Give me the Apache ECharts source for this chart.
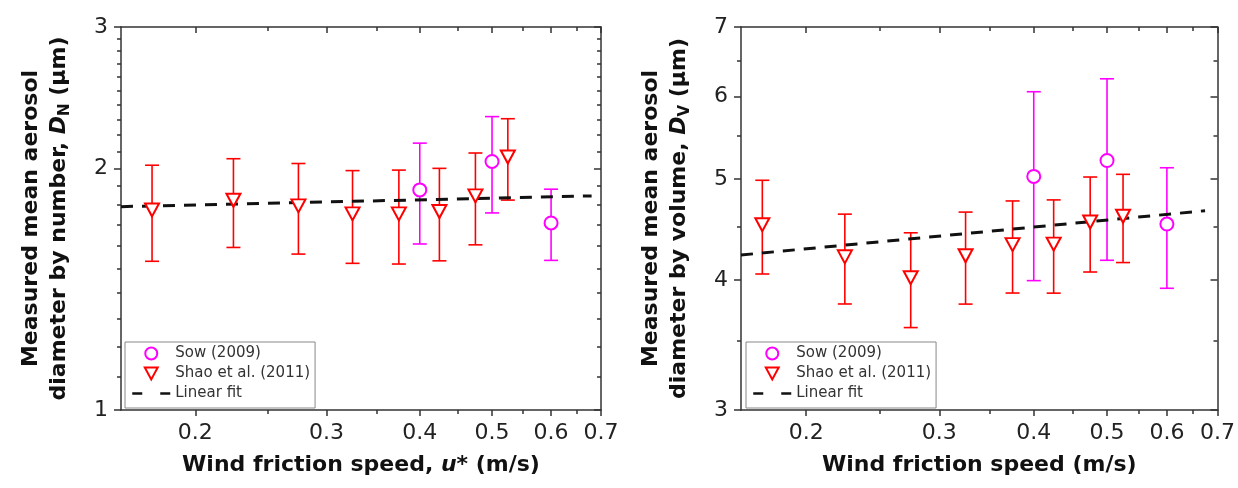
<!DOCTYPE html>
<html>
<head>
<meta charset="utf-8">
<script src="https://cdn.jsdelivr.net/npm/echarts@6/dist/echarts.min.js"></script>
<style>
html,body{margin:0;padding:0;background:#fff;}
#c{width:1238px;height:488px;}
</style>
</head>
<body>
<div id="c"></div>
<script>
// ---------- data ----------
const shaoX = [0.175, 0.225, 0.275, 0.325, 0.375, 0.425, 0.475, 0.525];
const sowX = [0.4, 0.5, 0.6];

// panel 1: mean diameter by number
const shaoN = [1.775, 1.825, 1.796, 1.755, 1.755, 1.767, 1.848, 2.066];
const shaoNErr = [0.243, 0.231, 0.232, 0.232, 0.235, 0.233, 0.242, 0.240];
const sowN = [1.88, 2.04, 1.71];
const sowNErr = [0.27, 0.28, 0.174];
const fitNX = [0.159, 0.68];
const fitNY = [1.792, 1.848];

// panel 2: mean diameter by volume
const shaoV = [4.52, 4.21, 4.02, 4.22, 4.325, 4.33, 4.547, 4.605];
const shaoVErr = [0.467, 0.417, 0.42, 0.428, 0.439, 0.445, 0.476, 0.448];
const sowV = [5.03, 5.21, 4.527];
const sowVErr = [1.036, 1.032, 0.60];
const fitVX = [0.164, 0.674];
const fitVY = [4.227, 4.662];

// ticks
const xMajor = [0.2, 0.3, 0.4, 0.5, 0.6, 0.7];
const xMinor = [0.25, 0.35, 0.45, 0.55, 0.65];
const yNMajor = [1, 2, 3];
const yNMinor = [1.1, 1.2, 1.3, 1.4, 1.5, 1.6, 1.7, 1.8, 1.9, 2.1, 2.2, 2.3, 2.4, 2.5, 2.6, 2.7, 2.8, 2.9];
const yVMajor = [3, 4, 5, 6, 7];
const yVMinor = [3.5, 4.5, 5.5, 6.5];

const legendNames = ['Sow (2009)', 'Shao et al. (2011)', 'Linear fit'];

// ---------- styling ----------
const FONT = 'DejaVu Sans';
const AX = '#333';
const RED = '#ff0000';
const MAG = '#ff00ff';

function fmt(v) { return String(+(+v).toPrecision(3)); }

function xAxesFor(grid, min, max, nameRich) {
  const base = {type: 'log', gridIndex: grid, min: min, max: max, splitLine: {show: false}};
  return [
    Object.assign({}, base, {
      position: 'bottom',
      axisLine: {show: true, lineStyle: {color: AX, width: 1.5}},
      axisTick: {show: true, inside: false, length: 6, customValues: xMajor, lineStyle: {color: AX, width: 1.5}},
      axisLabel: {show: true, customValues: xMajor, formatter: fmt, color: '#222', fontFamily: FONT, fontSize: 22, margin: 12},
      name: nameRich.text, nameLocation: 'middle', nameGap: 44,
      nameTextStyle: {rich: nameRich.rich}
    }),
    Object.assign({}, base, {
      position: 'bottom',
      axisLine: {show: false},
      axisTick: {show: true, inside: false, length: 4, customValues: xMinor, lineStyle: {color: AX, width: 1.5}},
      axisLabel: {show: false}
    }),
    Object.assign({}, base, {
      position: 'top',
      axisLine: {show: true, lineStyle: {color: AX, width: 1.5}},
      axisTick: {show: true, inside: true, length: 6, customValues: xMajor, lineStyle: {color: AX, width: 1.5}},
      axisLabel: {show: false}
    }),
    Object.assign({}, base, {
      position: 'top',
      axisLine: {show: false},
      axisTick: {show: true, inside: true, length: 4, customValues: xMinor, lineStyle: {color: AX, width: 1.5}},
      axisLabel: {show: false}
    })
  ];
}

function yAxesFor(grid, min, max, major, minor, nameRich) {
  const base = {type: 'log', gridIndex: grid, min: min, max: max, splitLine: {show: false}};
  return [
    Object.assign({}, base, {
      position: 'left',
      axisLine: {show: true, lineStyle: {color: AX, width: 1.5}},
      axisTick: {show: true, inside: false, length: 7, customValues: major, lineStyle: {color: AX, width: 1.5}},
      axisLabel: {show: true, customValues: major, formatter: fmt, color: '#222', fontFamily: FONT, fontSize: 22, margin: 13},
      name: nameRich.text, nameLocation: 'middle', nameRotate: 90, nameGap: 48,
      nameTextStyle: {rich: nameRich.rich}
    }),
    Object.assign({}, base, {
      position: 'left',
      axisLine: {show: false},
      axisTick: {show: true, inside: false, length: 4, customValues: minor, lineStyle: {color: AX, width: 1.5}},
      axisLabel: {show: false}
    }),
    Object.assign({}, base, {
      position: 'right',
      axisLine: {show: true, lineStyle: {color: AX, width: 1.5}},
      axisTick: {show: true, inside: true, length: 7, customValues: major, lineStyle: {color: AX, width: 1.5}},
      axisLabel: {show: false}
    }),
    Object.assign({}, base, {
      position: 'right',
      axisLine: {show: false},
      axisTick: {show: true, inside: true, length: 4, customValues: minor, lineStyle: {color: AX, width: 1.5}},
      axisLabel: {show: false}
    })
  ];
}

const titleRich = {
  a: {fontFamily: FONT, fontSize: 22, fontWeight: 'bold', color: '#111'},
  i: {fontFamily: FONT, fontSize: 22, fontWeight: 'bold', fontStyle: 'italic', color: '#111'}
};
const yRich = {
  a: {fontFamily: FONT, fontSize: 22, fontWeight: 'bold', color: '#111', lineHeight: 28},
  i: {fontFamily: FONT, fontSize: 22, fontWeight: 'bold', fontStyle: 'italic', color: '#111', lineHeight: 28},
  s: {fontFamily: FONT, fontSize: 15, fontWeight: 'bold', color: '#111', lineHeight: 15, verticalAlign: 'bottom'}
};

function pairs(xs, ys, es) { return xs.map((x, i) => es ? [x, ys[i], es[i]] : [x, ys[i]]); }

function errRender(color) {
  return function (params, api) {
    const x = api.value(0), y = api.value(1), e = api.value(2);
    const top = api.coord([x, y + e]);
    const bot = api.coord([x, y - e]);
    const w = 7;
    const st = {stroke: color, lineWidth: 1.6};
    return {type: 'group', children: [
      {type: 'line', shape: {x1: top[0], y1: top[1], x2: bot[0], y2: bot[1]}, style: st},
      {type: 'line', shape: {x1: top[0] - w, y1: top[1], x2: top[0] + w, y2: top[1]}, style: st},
      {type: 'line', shape: {x1: bot[0] - w, y1: bot[1], x2: bot[0] + w, y2: bot[1]}, style: st}
    ]};
  };
}

function seriesFor(ax, shaoY, shaoE, sowY, sowE, fitX, fitY) {
  return [
    {type: 'custom', name: 'shao-error', xAxisIndex: ax, yAxisIndex: ax, z: 2,
     renderItem: errRender(RED), data: pairs(shaoX, shaoY, shaoE), silent: true},
    {type: 'custom', name: 'sow-error', xAxisIndex: ax, yAxisIndex: ax, z: 2,
     renderItem: errRender(MAG), data: pairs(sowX, sowY, sowE), silent: true},
    {type: 'line', name: 'Linear fit', xAxisIndex: ax, yAxisIndex: ax, z: 3,
     data: pairs(fitX, fitY), symbol: 'none', color: '#111',
     lineStyle: {color: '#111', width: 3, type: [12, 9]}},
    {type: 'scatter', name: 'Shao et al. (2011)', xAxisIndex: ax, yAxisIndex: ax, z: 4,
     data: pairs(shaoX, shaoY), symbol: 'triangle', symbolRotate: 180, symbolSize: [14, 13],
     itemStyle: {color: '#fff', borderColor: RED, borderWidth: 2, opacity: 1}},
    {type: 'scatter', name: 'Sow (2009)', xAxisIndex: ax, yAxisIndex: ax, z: 4,
     data: pairs(sowX, sowY), symbol: 'circle', symbolSize: 13,
     itemStyle: {color: '#fff', borderColor: MAG, borderWidth: 2, opacity: 1}}
  ];
}

function legendFor(left) {
  return {
    left: left, top: 342, orient: 'vertical',
    data: [
      {name: legendNames[0], icon: 'circle'},
      {name: legendNames[1], icon: 'path://M0,0 L14,0 L7,13 Z', symbolRotate: 0},
      {name: legendNames[2], lineStyle: {type: [10, 18], width: 2.5}, itemStyle: {opacity: 0}}
    ],
    symbolKeepAspect: true,
    itemWidth: 38, itemHeight: 12, itemGap: 5,
    padding: [4, 5, 7, 6],
    borderColor: '#888', borderWidth: 1, backgroundColor: '#fff',
    textStyle: {fontFamily: FONT, fontSize: 15, color: '#333'},
    selectedMode: false
  };
}

const option = {
  animation: false,
  backgroundColor: '#fff',
  grid: [
    {left: 121, right: 637, top: 27, bottom: 78},
    {left: 741, right: 18, top: 27, bottom: 78}
  ],
  xAxis: [].concat(
    xAxesFor(0, 0.159, 0.7, {text: '{a|Wind friction speed, }{i|u*}{a| (m/s)}', rich: titleRich}),
    xAxesFor(1, 0.164, 0.7, {text: '{a|Wind friction speed (m/s)}', rich: titleRich})
  ),
  yAxis: [].concat(
    yAxesFor(0, 1, 3, yNMajor, yNMinor, {text: '{a|Measured mean aerosol}\n{a|diameter by number, }{i|D}{s|N}{a| (μm)}', rich: yRich}),
    yAxesFor(1, 3, 7, yVMajor, yVMinor, {text: '{a|Measured mean aerosol}\n{a|diameter by volume, }{i|D}{s|V}{a| (μm)}', rich: yRich})
  ),
  legend: [legendFor(125), legendFor(746)],
  series: [].concat(
    seriesFor(0, shaoN, shaoNErr, sowN, sowNErr, fitNX, fitNY),
    seriesFor(4, shaoV, shaoVErr, sowV, sowVErr, fitVX, fitVY)
  )
};

const chart = echarts.init(document.getElementById('c'), null, {renderer: 'canvas'});
chart.setOption(option);
</script>
</body>
</html>
